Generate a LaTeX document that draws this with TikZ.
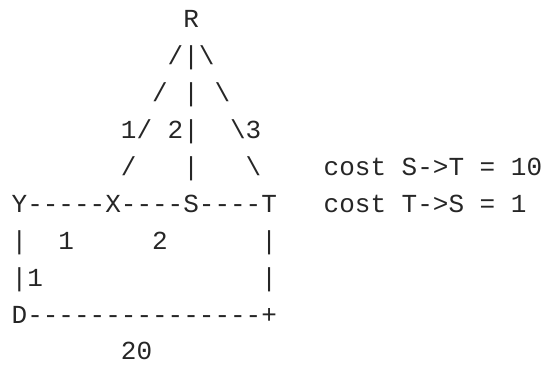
\documentclass[tikz,border=0pt]{standalone}
\usepackage{fontspec}
\newfontfamily\asciifont{Liberation Mono}
\tikzset{
  ascii/.style={anchor=base west, inner sep=0pt, outer sep=0pt, text=black!85,
    font={\asciifont\fontsize{26pt}{30pt}\selectfont}}
}
\newcommand\bs{\textbackslash}
\begin{document}
\begin{tikzpicture}[x=1pt,y=1pt]
\useasboundingbox (0,0) rectangle (543,-364);
\def\lx{11.7}
\node[ascii] (row0) at (\lx,-27.8) {~~~~~~~~~~~R};
\node[ascii] (row1) at (\lx,-64.7) {~~~~~~~~~~/|\bs};
\node[ascii] (row2) at (\lx,-101.6) {~~~~~~~~~/~|~\bs};
\node[ascii] (row3) at (\lx,-138.5) {~~~~~~~1/~2|~~\bs3};
\node[ascii] (row4) at (\lx,-175.4) {~~~~~~~/~~~|~~~\bs~~~~cost~S->T~=~10};
\node[ascii] (row5) at (\lx,-212.3) {Y-{}-{}-{}-{}-X-{}-{}-{}-S-{}-{}-{}-T~~~cost~T->S~=~1};
\node[ascii] (row6) at (\lx,-249.2) {|~~1~~~~~2~~~~~~|};
\node[ascii] (row7) at (\lx,-286.1) {|1~~~~~~~~~~~~~~|};
\node[ascii] (row8) at (\lx,-323.0) {D-{}-{}-{}-{}-{}-{}-{}-{}-{}-{}-{}-{}-{}-{}-+};
\node[ascii] (row9) at (\lx,-359.9) {~~~~~~~20};
\end{tikzpicture}
\end{document}
